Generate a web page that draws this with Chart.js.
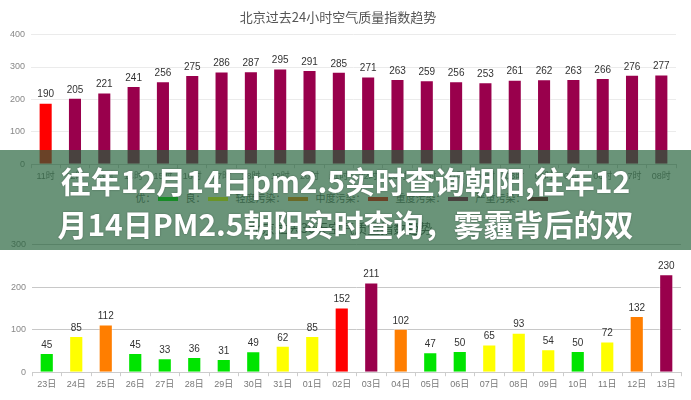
<!DOCTYPE html>
<html>
<head>
<meta charset="utf-8">
<script src="https://cdn.jsdelivr.net/npm/chart.js@4.4.1/dist/chart.umd.min.js"></script>
<style>
  html, body { margin: 0; padding: 0; background: #fff; }
  #page { position: relative; width: 691px; height: 400px; overflow: hidden; background: #fff; }
  #hourBox { position: absolute; left: 0; top: 0; width: 691px; height: 190px; }
  #dayBox { position: absolute; left: 0; top: 210px; width: 691px; height: 190px; }
  #levels { position: absolute; left: 0; top: 190px; width: 691px; text-align: center;
            font: 10px "Noto Sans CJK SC", sans-serif; color: #666; white-space: nowrap; }
  #levels span.sw { display: inline-block; width: 20px; height: 4px; vertical-align: middle; margin: 0 8px 0 2px; }
  #banner { position: absolute; left: 0; top: 150px; width: 691px; height: 100px;
            background: rgba(36, 98, 57, 0.68); }
  #banner div { position: absolute; left: 0; width: 691px; text-align: center; color: #fff;
                font: 700 30px "Noto Sans CJK SC", sans-serif; line-height: 43px; white-space: nowrap;
                text-shadow: 0 0 2px rgba(0,0,0,0.35); }
</style>
</head>
<body>
<div id="page">
  <div id="hourBox"><canvas id="hourChart"></canvas></div>
  <div id="dayBox"><canvas id="dayChart"></canvas></div>
  <div id="levels"></div>
  <div id="banner">
    <div style="top:9px">往年12月14日pm2.5实时查询朝阳,往年12</div>
    <div style="top:52px">月14日PM2.5朝阳实时查询，雾霾背后的双</div>
  </div>
</div>
<script>
// past 24 hours
const hourLabels = ['11时','12时','13时','14时','15时','16时','17时','18时','19时','20时','21时',
  '22时','23时','00时','01时','02时','03时','04时','05时','06时','07时','08时'];
const hourAqi = [190, 205, 221, 241, 256, 275, 286, 287, 295, 291, 285,
  271, 263, 259, 256, 253, 261, 262, 263, 266, 276, 277];
const hourTicks = [0, 100, 200, 300, 400];

// past month
const dayLabels = ['23日','24日','25日','26日','27日','28日','29日','30日','31日','01日','02日',
  '03日','04日','05日','06日','07日','08日','09日','10日','11日','12日','13日'];
const dayAqi = [45, 85, 112, 45, 33, 36, 31, 49, 62, 85, 152,
  211, 102, 47, 50, 65, 93, 54, 50, 72, 132, 230];
const dayTicks = [0, 100, 200, 300];

// AQI levels
const levelNames = ['优', '良', '轻度污染', '中度污染', '重度污染', '严重污染'];
const levelTops = [50, 100, 150, 200, 300, 500];
const levelColors = ['#00e400', '#ffff00', '#ff7e00', '#ff0000', '#99004c', '#7e0023'];

function levelColor(v) {
  for (let i = 0; i < levelTops.length; i++) {
    if (v <= levelTops[i]) return levelColors[i];
  }
  return levelColors[levelColors.length - 1];
}

document.getElementById('levels').innerHTML = levelNames.map((n, i) =>
  n + '：<span class="sw" style="background:' + levelColors[i] + '"></span>').join('');

Chart.defaults.font.family = '"Liberation Sans", "Noto Sans CJK SC", sans-serif';
Chart.defaults.animation = false;

const valueLabels = {
  id: 'valueLabels',
  afterDatasetsDraw(chart) {
    const ctx = chart.ctx;
    ctx.save();
    ctx.font = '10px "Liberation Sans", sans-serif';
    ctx.fillStyle = '#333';
    ctx.textAlign = 'center';
    ctx.textBaseline = 'bottom';
    chart.getDatasetMeta(0).data.forEach((bar, i) => {
      ctx.fillText(chart.data.datasets[0].data[i], bar.x, bar.y - 3);
    });
    ctx.restore();
  }
};

function makeChart(id, title, labels, values, ticks, opts) {
  return new Chart(id, {
    type: 'bar',
    data: {
      labels: labels,
      datasets: [{
        data: values,
        backgroundColor: values.map(levelColor),
        borderColor: 'rgba(255,255,255,0.5)',
        borderWidth: 1,
        barPercentage: opts.barPct,
        categoryPercentage: 1
      }]
    },
    options: {
      responsive: true,
      maintainAspectRatio: false,
      layout: { padding: { left: 0, right: opts.right, top: 0, bottom: opts.bottom } },
      plugins: {
        legend: { display: false },
        tooltip: { enabled: false },
        title: {
          display: true,
          text: title,
          color: '#555',
          font: { size: 13, weight: 'normal', family: '"Noto Sans CJK SC", sans-serif' },
          padding: { top: opts.titleTop, bottom: opts.titleBottom }
        }
      },
      scales: {
        x: {
          grid: { offset: true, drawOnChartArea: false, tickLength: 4, color: '#ccc' },
          border: { color: '#ccc' },
          ticks: { color: '#777', font: { size: 9 }, maxRotation: 0, autoSkip: false, padding: 3 }
        },
        y: {
          min: 0,
          max: ticks[ticks.length - 1],
          afterBuildTicks: (s) => { s.ticks = ticks.map(v => ({ value: v })); },
          afterFit: (s) => { s.width = opts.axisW; },
          grid: { color: opts.gridColor, drawTicks: false },
          border: { display: false },
          ticks: { color: '#888', font: { size: 9 }, padding: 6 }
        }
      }
    },
    plugins: [valueLabels]
  });
}

makeChart('hourChart', '北京过去24小时空气质量指数趋势', hourLabels, hourAqi, hourTicks,
  { barPct: 0.48, right: 15, bottom: 5, axisW: 31, titleTop: 9, titleBottom: 10, gridColor: '#ebebeb' });
makeChart('dayChart', '北京过去30天空气质量指数趋势', dayLabels, dayAqi, dayTicks,
  { barPct: 0.48, right: 10, bottom: 7, axisW: 32, titleTop: 10, titleBottom: 9, gridColor: '#c8c8c8' });
</script>
</body>
</html>
